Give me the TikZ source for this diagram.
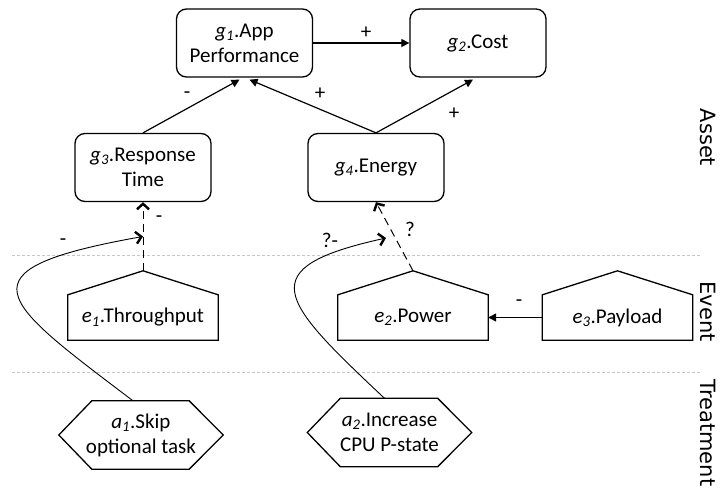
\documentclass[tikz,border=0pt]{standalone}
\usepackage{fontspec}
\setmainfont{Carlito}
\newfontfamily\sidefont{DejaVu Sans}
\usetikzlibrary{arrows.meta,calc}
\newcommand{\gsub}[2]{{\itshape #1\textsubscript{#2}}}
\begin{document}
\begin{tikzpicture}[x=1pt,y=-1pt,
  txt/.style={font=\fontsize{21}{25}\selectfont, align=center, inner sep=0pt},
  goal/.style={txt, draw, rounded corners=10pt, line width=1.3pt, minimum width=136pt, minimum height=68pt},
  evbody/.style={txt, minimum width=150pt, minimum height=45pt},
  actbody/.style={txt, minimum width=164pt, minimum height=68pt},
  outline/.style={line width=1.3pt, line join=miter},
  sol/.style={line width=1.2pt, -{Triangle[length=8pt,width=8pt]}},
  dsh/.style={line width=1pt, dash pattern=on 8pt off 5pt, -{Straight Barb[length=5.5pt,width=12pt,line width=2.4pt]}},
  crv/.style={line width=0.9pt, -{Straight Barb[length=5.5pt,width=12pt,line width=2.4pt]}},
  lbl/.style={font=\fontsize{21}{25}\selectfont, inner sep=0pt},
  sep/.style={gray!45, line width=0.8pt, dash pattern=on 3pt off 2pt},
  side/.style={font=\sidefont\fontsize{21}{24}\selectfont, rotate=-90, inner sep=0pt}]
\useasboundingbox (0,0) rectangle (721,493);

% layer separators
\coordinate (s1l) at (12,255); \coordinate (s1r) at (700,255);
\coordinate (s2l) at (12,372); \coordinate (s2r) at (700,372);
\draw[sep] (s1l) -- (s1r);
\draw[sep] (s2l) -- (s2r);

% layer titles
\node[side] (tAsset) at (708,137.5) {Asset};
\node[side] (tEvent) at (708,311.5) {Event};
\node[side] (tTreat) at (708,433) {Treatment};

% goals
\node[goal] (g1) at (244.5,43) {\gsub{g}{1}.App\\Performance};
\node[goal] (g2) at (478,43) {\gsub{g}{2}.Cost};
\node[goal] (g3) at (143,167.5) {\gsub{g}{3}.Response\\Time};
\node[goal] (g4) at (376,167.5) {\gsub{g}{4}.Energy};

% events (house shapes)
\node[evbody] (e1) at (143,317.5) {\gsub{e}{1}.Throughput};
\node[evbody] (e2) at (413,317.5) {\gsub{e}{2}.Power};
\node[evbody] (e3) at (617.5,317.5) {\gsub{e}{3}.Payload};
\foreach \e in {e1,e2,e3}{
  \coordinate (\e apex) at ($(\e.north)+(0,-24)$);
  \draw[outline] (\e.south west) -- (\e.north west) -- (\e apex) -- (\e.north east) -- (\e.south east) -- cycle;
}

% treatments (hexagons)
\node[actbody] (a1) at (141,435) {\gsub{a}{1}.Skip\\optional task};
\node[actbody] (a2) at (389.5,432.5) {\gsub{a}{2}.Increase\\CPU P-state};
\foreach \a in {a1,a2}{
  \draw[outline] (\a.west) -- ($(\a.north west)+(33,0)$) -- ($(\a.north east)+(-34,0)$) -- (\a.east)
    -- ($(\a.south east)+(-34,0)$) -- ($(\a.south west)+(33,0)$) -- cycle;
}

% goal relations
\draw[sol] (g1.east) -- (g2.west);
\node[lbl] (l12) at (366,33) {+};
\draw[sol] (g3.north) -- ($(g1.south)+(-5,2)$);
\node[lbl] (l31) at (187,95) {-};
\draw[sol] (g4.north) -- ($(g1.south)+(5,2)$);
\node[lbl] (l41) at (320,94) {+};
\draw[sol] (g4.north) -- ($(g2.south)+(-5,2)$);
\node[lbl] (l42) at (454,114) {+};

% event relations
\draw[dsh] (e1apex) -- (g3.south);
\node[lbl] (l13) at (159,219) {-};
\draw[dsh] (e2apex) -- (g4.south);
\node[lbl] (l24) at (410,229) {?};
\draw[sol] (e3.west) -- (e2.east);
\node[lbl] (l32) at (519,303) {-};

% treatment effects on event relations
\coordinate (m1) at ($(e1apex)!0.5!(g3.south)$);
\coordinate (m2) at (386,238);
\coordinate (a1s) at ($(a1.north)+(-8,0)$);
\coordinate (a2s) at ($(a2.north)+(-5,0)$);
\draw[crv] (a1s) .. controls (0,300) and (-45,270) .. (m1);
\node[lbl] (lm1) at (63,242) {-};
\draw[crv] (a2s) .. controls (280,300) and (250,268) .. (m2);
\node[lbl] (lm2) at (330,240) {?-};
\end{tikzpicture}
\end{document}
